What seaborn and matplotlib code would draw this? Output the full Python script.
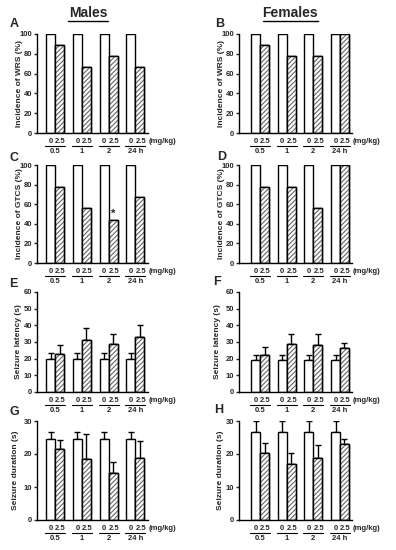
import matplotlib
matplotlib.use("Agg")
import matplotlib.pyplot as plt
import seaborn as sns
import pandas as pd
import numpy as np
from matplotlib.patches import Rectangle
from matplotlib.transforms import offset_copy, blended_transform_factory

sns.set_theme(style="ticks")
plt.rcParams['font.family'] = ['Liberation Sans', 'DejaVu Sans']
plt.rcParams['hatch.linewidth'] = 0.8
plt.rcParams['hatch.color'] = '#666666'

groups = ["0.5", "1", "2", "24 h"]
doses = ["0", "2.5"]

# Incidence (%)
wrs_m_ctrl = [100, 100, 100, 100]
wrs_m_trt = [89, 67, 78, 67]
wrs_f_ctrl = [100, 100, 100, 100]
wrs_f_trt = [89, 78, 78, 100]
gtcs_m_ctrl = [100, 100, 100, 100]
gtcs_m_trt = [78, 56, 44, 67]
gtcs_f_ctrl = [100, 100, 100, 100]
gtcs_f_trt = [78, 78, 56, 100]

# Seizure latency (s): mean and SEM
lat_m_ctrl = [19.6, 19.6, 19.6, 19.6]
lat_m_ctrl_err = [4.0, 4.0, 4.0, 4.0]
lat_m_trt = [23.0, 31.0, 28.6, 33.0]
lat_m_trt_err = [5.2, 7.4, 6.4, 7.0]
lat_f_ctrl = [19.5, 19.5, 19.5, 19.5]
lat_f_ctrl_err = [2.8, 2.8, 2.8, 2.8]
lat_f_trt = [22.0, 29.0, 28.4, 26.6]
lat_f_trt_err = [5.2, 6.0, 6.4, 3.0]

# Seizure duration (s): mean and SEM
dur_m_ctrl = [24.4, 24.4, 24.4, 24.4]
dur_m_ctrl_err = [2.2, 2.2, 2.2, 2.2]
dur_m_trt = [21.4, 18.6, 14.3, 18.8]
dur_m_trt_err = [2.8, 7.4, 3.3, 5.0]
dur_f_ctrl = [26.7, 26.7, 26.7, 26.7]
dur_f_ctrl_err = [3.3, 3.3, 3.3, 3.3]
dur_f_trt = [20.2, 17.1, 18.8, 23.0]
dur_f_trt_err = [3.0, 3.1, 3.8, 1.5]

W, H = 396, 550
fig = plt.figure(figsize=(W / 100, H / 100), dpi=100)

def axes_px(x0, x1, y0, y1):
    return fig.add_axes([x0 / W, 1 - y1 / H, (x1 - x0) / W, (y1 - y0) / H])

rows = [(34, 133), (165, 263), (292, 392), (421, 520)]
cols = [(37, 148, -0.68, 3.47), (239, 352, -0.79, 3.45)]

panels = [
    ("A", 0, 0, wrs_m_ctrl, wrs_m_trt, None, None, "Incidence of WRS (%)", 100, 20, None, 17),
    ("B", 0, 1, wrs_f_ctrl, wrs_f_trt, None, None, "Incidence of WRS (%)", 100, 20, None, 17),
    ("C", 1, 0, gtcs_m_ctrl, gtcs_m_trt, None, None, "Incidence of GTCS (%)", 100, 20, 2, 17),
    ("D", 1, 1, gtcs_f_ctrl, gtcs_f_trt, None, None, "Incidence of GTCS (%)", 100, 20, None, 17),
    ("E", 2, 0, lat_m_ctrl, lat_m_trt, lat_m_ctrl_err, lat_m_trt_err, "Seizure latency (s)", 60, 10, None, 18),
    ("F", 2, 1, lat_f_ctrl, lat_f_trt, lat_f_ctrl_err, lat_f_trt_err, "Seizure latency (s)", 60, 10, None, 21),
    ("G", 3, 0, dur_m_ctrl, dur_m_trt, dur_m_ctrl_err, dur_m_trt_err, "Seizure duration (s)", 30, 10, None, 21),
    ("H", 3, 1, dur_f_ctrl, dur_f_trt, dur_f_ctrl_err, dur_f_trt_err, "Seizure duration (s)", 30, 10, None, 18),
]

letter_pos = {"A": (14, 24), "B": (220, 24), "C": (14, 158), "D": (222, 157),
              "E": (13, 284), "F": (217, 282), "G": (14, 412), "H": (219, 410)}

for letter, r, c, ctrl, trt, cerr, terr, ylabel, ymax, ystep, star, ylab_off in panels:
    x0, x1, xl, xr = cols[c]
    y0, y1 = rows[r]
    ax = axes_px(x0, x1, y0, y1)
    df = pd.DataFrame({
        "time": groups * 2,
        "dose": [doses[0]] * 4 + [doses[1]] * 4,
        "value": list(ctrl) + list(trt),
        "err": (list(cerr) + list(terr)) if cerr is not None else [0] * 8,
    })
    sns.barplot(data=df, x="time", y="value", hue="dose", order=groups,
                hue_order=doses, width=0.67, gap=0, errorbar=None,
                palette=["white", "white"], edgecolor="black", linewidth=1.0,
                legend=False, ax=ax, zorder=2)
    bars = list(ax.patches[:8])
    for i, p in enumerate(bars):
        if i >= 4:
            hp = Rectangle((p.get_x(), p.get_y()), p.get_width(), p.get_height(),
                           facecolor="white", edgecolor="#666666", hatch="///////",
                           linewidth=0.3, zorder=2.5)
            ax.add_patch(hp)
            ax.add_patch(Rectangle((p.get_x(), p.get_y()), p.get_width(), p.get_height(),
                                   fill=False, edgecolor="black", linewidth=1.0, zorder=3))
    if cerr is not None:
        xs = [p.get_x() + p.get_width() / 2 for p in bars]
        hs = [p.get_height() for p in bars]
        ax.errorbar(xs, hs, yerr=[np.zeros(8), df["err"].values], fmt="none",
                    ecolor="black", elinewidth=1.0, capsize=2.0, capthick=1.0, zorder=1)
    ax.set_xlim(xl, xr)
    ax.set_ylim(0, ymax)
    ax.set_yticks(np.arange(0, ymax + 1, ystep))
    ax.set_xticks([])
    ax.set_xlabel("")
    ax.set_ylabel(ylabel, fontsize=6, fontweight="bold")
    ax.yaxis.label.set_va("center")
    ax.yaxis.set_label_coords(-ylab_off / (x1 - x0), 0.5)
    ax.tick_params(axis="y", labelsize=5.5, width=1, length=2.5, pad=1, direction="out")
    for t in ax.get_yticklabels():
        t.set_fontweight("bold")
    sns.despine(ax=ax)
    for s in ["left", "bottom"]:
        ax.spines[s].set_linewidth(1.0)
        ax.spines[s].set_color("black")
    ax.set_facecolor("none")

    tr_line = offset_copy(blended_transform_factory(ax.transData, ax.transAxes),
                          fig=fig, x=0, y=-9, units="points")
    for g in range(4):
        pc, pt = bars[g], bars[g + 4]
        xc = pc.get_x() + pc.get_width() / 2
        xt = pt.get_x() + pt.get_width() / 2
        ax.annotate(doses[0], (xc, 0), xycoords=("data", "axes fraction"),
                    xytext=(0, -6), textcoords="offset points", ha="center", va="center",
                    fontsize=5.5, fontweight="bold")
        ax.annotate(doses[1], (xt + 0.03, 0), xycoords=("data", "axes fraction"),
                    xytext=(0, -6), textcoords="offset points", ha="center", va="center",
                    fontsize=5.5, fontweight="bold")
        xa = pc.get_x() - 0.04
        xb = pt.get_x() + pt.get_width() + 0.04
        ax.plot([xa, xb], [0, 0], color="black", lw=0.8, transform=tr_line, clip_on=False)
        ax.annotate(groups[g], ((xa + xb) / 2, 0), xycoords=("data", "axes fraction"),
                    xytext=(0, -13), textcoords="offset points", ha="center", va="center",
                    fontsize=5.5, fontweight="bold")
    last = bars[7]
    ax.annotate("(mg/kg)", (last.get_x() + last.get_width(), 0),
                xycoords=("data", "axes fraction"), xytext=(3, -6),
                textcoords="offset points", ha="left", va="center",
                fontsize=5.5, fontweight="bold")
    if star is not None:
        p = bars[4 + star]
        ax.text(p.get_x() + p.get_width() / 2, p.get_height() + 6, "*",
                ha="center", va="center", fontsize=8, fontweight="bold")
    lx, ly = letter_pos[letter]
    fig.text(lx / W, 1 - ly / H, letter, ha="center", va="center",
             fontsize=9, fontweight="bold")

fig.text(88 / W, 1 - 13 / H, "Males", ha="center", va="center", fontsize=10,
         fontweight="bold")
fig.text(290 / W, 1 - 13 / H, "Females", ha="center", va="center", fontsize=10,
         fontweight="bold")
fig.add_artist(plt.Line2D([68 / W, 108 / W], [1 - 21 / H, 1 - 21 / H], color="black", lw=1.0))
fig.add_artist(plt.Line2D([263 / W, 318 / W], [1 - 21 / H, 1 - 21 / H], color="black", lw=1.0))

fig.savefig("out.png", dpi=100)
